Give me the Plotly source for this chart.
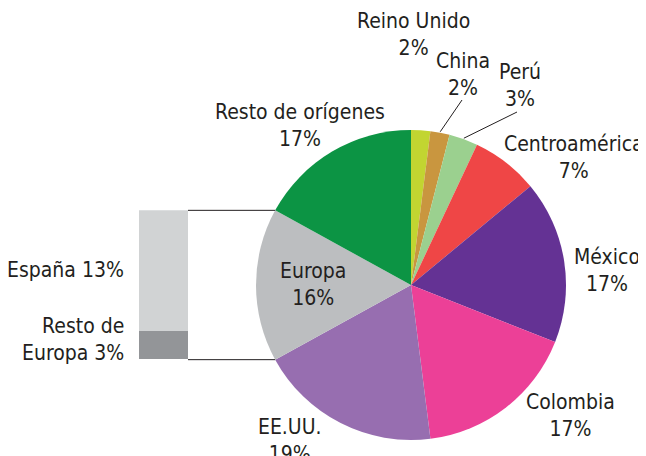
import numpy as np
import plotly.graph_objects as go

# Page has an 8px body margin, so the figure is drawn 8px in from the corner
OFF = 8
W, H = 646 - OFF, 456 - OFF

# Origin shares (pie), clockwise from 12 o'clock
origins = ["Reino Unido", "China", "Perú", "Centroamérica", "México",
           "Colombia", "EE.UU.", "Europa", "Resto de orígenes"]
shares = [2, 2, 3, 7, 17, 17, 19, 16, 17]
slice_colors = ["#c2d531", "#c9963f", "#9bd08f", "#ef4646", "#643294",
                "#ec4097", "#976eb0", "#bcbec0", "#0c9444"]

# Breakdown of the Europa slice (bar), bottom to top
europe_parts = ["Resto de Europa", "España"]
europe_shares = [3, 13]
europe_colors = ["#939598", "#d1d3d4"]

FONT = "Liberation Sans Narrow, DejaVu Sans Condensed, Arial Narrow, sans-serif"
TXT = "#231f20"
FS = 21

# Pie geometry (window pixels)
CX, CY, R = 411, 285, 155
BAR_X0, BAR_X1 = 139, 188

# Label centres (window pixels)
label_pos = {
    "Reino Unido": (413, 34),
    "China": (463, 74),
    "Perú": (520, 85),
    "Centroamérica": (574, 157),
    "México": (607, 270),
    "Colombia": (570, 415),
    "EE.UU.": (290, 440),
    "Europa": (313, 284),
    "Resto de orígenes": (300, 125),
}
leader_end = {"China": (462, 100), "Perú": (517, 112)}


def px(x):
    return (x - OFF) / W


def py(y):
    return 1 - (y - OFF) / H


def edge(frac, r=R):
    a = np.deg2rad(frac * 360)
    return CX + r * np.sin(a), CY - r * np.cos(a)


total = sum(shares)
cum = np.concatenate([[0], np.cumsum(shares)]) / total
i_eu = origins.index("Europa")
eu_start = edge(cum[i_eu])
eu_end = edge(cum[i_eu + 1])
bar_top, bar_bot = min(eu_start[1], eu_end[1]), max(eu_start[1], eu_end[1])

fig = go.Figure()

fig.add_trace(go.Pie(
    labels=origins, values=shares, sort=False, direction="clockwise",
    rotation=0, textinfo="none", showlegend=False,
    marker=dict(colors=slice_colors, line=dict(width=0)),
    domain=dict(x=[px(CX - R), px(CX + R)], y=[py(CY + R), py(CY - R)]),
))

for name, v, c in zip(europe_parts, europe_shares, europe_colors):
    fig.add_trace(go.Bar(x=[0], y=[v], name=name, width=1,
                         marker=dict(color=c, line=dict(width=0)),
                         showlegend=False))

annotations = []
for name, v in zip(origins, shares):
    x, y = label_pos[name]
    annotations.append(dict(
        x=px(x), y=py(y), xref="paper", yref="paper",
        text=f"{name}<br>{v}%", showarrow=False, align="center",
        xanchor="center", yanchor="middle",
        font=dict(family=FONT, size=FS, color=TXT),
    ))

annotations.append(dict(
    x=px(126), y=py(270), xref="paper", yref="paper",
    text=f"{europe_parts[1]} {europe_shares[1]}%", showarrow=False,
    xanchor="right", yanchor="middle",
    font=dict(family=FONT, size=FS, color=TXT),
))
annotations.append(dict(
    x=px(126), y=py(339), xref="paper", yref="paper",
    text=f"Resto de<br>Europa {europe_shares[0]}%", showarrow=False,
    align="right", xanchor="right", yanchor="middle",
    font=dict(family=FONT, size=FS, color=TXT),
))

shapes = []
# connectors from bar to Europa wedge
for ex, ey in (eu_start, eu_end):
    shapes.append(dict(type="line", xref="paper", yref="paper",
                       x0=px(BAR_X1), y0=py(ey), x1=px(ex), y1=py(ey),
                       line=dict(color="#231f20", width=1)))
# leader lines for small slices
for name, (lx, ly) in leader_end.items():
    i = origins.index(name)
    sx, sy = edge((cum[i] + cum[i + 1]) / 2, R + 1)
    shapes.append(dict(type="line", xref="paper", yref="paper",
                       x0=px(sx), y0=py(sy), x1=px(lx), y1=py(ly),
                       line=dict(color="#231f20", width=1)))

fig.update_layout(
    width=W, height=H, margin=dict(l=0, r=0, t=0, b=0),
    paper_bgcolor="white", plot_bgcolor="white",
    barmode="stack", bargap=0,
    xaxis=dict(domain=[px(BAR_X0), px(BAR_X1)], range=[-0.5, 0.5],
               visible=False, fixedrange=True),
    yaxis=dict(domain=[py(bar_bot), py(bar_top)], range=[0, sum(europe_shares)],
               visible=False, fixedrange=True),
    annotations=annotations, shapes=shapes,
)

fig.write_html("out.html")
